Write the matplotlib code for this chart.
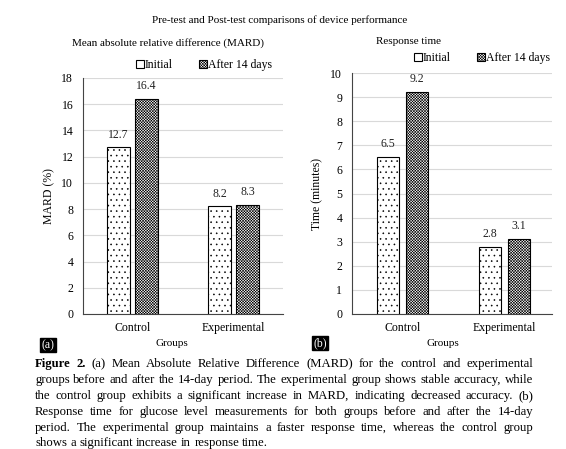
import matplotlib
matplotlib.use('Agg')
import matplotlib.pyplot as plt
from matplotlib.patches import Patch
import numpy as np

groups = ['Control', 'Experimental']
mard_initial = [12.7, 8.2]
mard_after = [16.4, 8.3]
time_initial = [6.5, 2.8]
time_after = [9.2, 3.1]
series = ['Initial', 'After 14 days']

caption = [
    "Figure 2. (a) Mean Absolute Relative Difference (MARD) for the control and experimental",
    "groups before and after the 14-day period. The experimental group shows stable accuracy, while",
    "the control group exhibits a significant increase in MARD, indicating decreased accuracy. (b)",
    "Response time for glucose level measurements for both groups before and after the 14-day",
    "period. The experimental group maintains a faster response time, whereas the control group",
    "shows a significant increase in response time.",
]

plt.rcParams['font.family'] = ['Liberation Serif', 'DejaVu Serif']
plt.rcParams['hatch.linewidth'] = 0.4
plt.rcParams['font.size'] = 8

W, H = 566, 449
fig = plt.figure(figsize=(W / 100, H / 100), dpi=100)

DOTS = '...'
CHECK = 'xxxxxxxxxxxx'


def fx(x):
    return x / W


def fy(y):
    return 1 - y / H


def draw_panel(ax, ini, aft, ymax, step, ylabel, width, off, xlim):
    x = np.arange(len(groups))
    b1 = ax.bar(x - off, ini, width, color='white', edgecolor='black',
                hatch=DOTS, linewidth=0.8, zorder=3)
    b2 = ax.bar(x + off, aft, width, color='white', edgecolor='black',
                hatch=CHECK, linewidth=0.8, zorder=3)
    for bars in (b1, b2):
        ax.bar_label(bars, fmt='%.1f', padding=5, fontsize=8.5, color='#222222')
    ax.set_ylim(0, ymax)
    ax.set_xlim(*xlim)
    ax.set_yticks(np.arange(0, ymax + 0.01, step))
    ax.set_xticks(x)
    ax.set_xticklabels(groups, fontsize=8.5)
    ax.tick_params(length=0, labelsize=8.5, pad=7)
    ax.tick_params(axis='x', pad=6)
    ax.yaxis.grid(True, color='#d9d9d9', linewidth=0.8, zorder=0)
    ax.set_axisbelow(True)
    for s in ['top', 'right']:
        ax.spines[s].set_visible(False)
    ax.spines['left'].set_color('#444444')
    ax.spines['bottom'].set_color('#444444')
    ax.set_ylabel(ylabel, fontsize=8.5)
    return b1, b2


ax1 = fig.add_axes([fx(83), fy(314), fx(200), (314 - 78) / H])
draw_panel(ax1, mard_initial, mard_after, 18, 2, 'MARD (%)', 0.235, 0.138, (-0.49, 1.49))
ax1.yaxis.set_label_coords(-(83 - 55) / 200, 0.5)

ax2 = fig.add_axes([fx(352), fy(314), fx(200), (314 - 73) / H])
draw_panel(ax2, time_initial, time_after, 10, 1, 'Time (minutes)', 0.22, 0.14, (-0.495, 1.465))
ax2.yaxis.set_label_coords(-(352 - 323) / 200, 0.5)

handles = [Patch(facecolor='white', edgecolor='black', linewidth=0.8, label=series[0]),
           Patch(facecolor='white', edgecolor='black', hatch=CHECK, linewidth=0.8, label=series[1])]
for cx, cy in [(204, 65), (482, 58)]:
    fig.legend(handles=handles, loc='center', bbox_to_anchor=(fx(cx), fy(cy)), ncol=2,
               frameon=False, fontsize=8.5, handlelength=0.7, handleheight=0.7,
               handletextpad=0.1, columnspacing=2.2, borderpad=0)

fig.text(fx(280), fy(20), 'Pre-test and Post-test comparisons of device performance',
         ha='center', va='center', fontsize=8)
fig.text(fx(168), fy(43), 'Mean absolute relative difference (MARD)', ha='center', va='center', fontsize=8)
fig.text(fx(408), fy(41), 'Response time', ha='center', va='center', fontsize=8)
fig.text(fx(172), fy(344), 'Groups', ha='center', va='center', fontsize=8)
fig.text(fx(443), fy(343), 'Groups', ha='center', va='center', fontsize=8)
for lab, cx, cy in [('(a)', 48, 345), ('(b)', 320, 343)]:
    fig.text(fx(cx), fy(cy), lab, ha='center', va='center', fontsize=8.5, color='white',
             bbox=dict(facecolor='black', edgecolor='black', pad=1.0))

# justified caption
fig.canvas.draw()
renderer = fig.canvas.get_renderer()
left, right = 35, 533
baselines = [367, 383, 399, 415, 431, 446]
CAP_FS = 9.2
tmp1 = fig.text(0, 0, 'a a', fontsize=CAP_FS)
tmp2 = fig.text(0, 0, 'aa', fontsize=CAP_FS)
space = tmp1.get_window_extent(renderer).width - tmp2.get_window_extent(renderer).width
tmp1.remove()
tmp2.remove()
for i, line in enumerate(caption):
    words = line.split(' ')
    texts = []
    for j, w in enumerate(words):
        bold = (i == 0 and j < 2)
        t = fig.text(0, fy(baselines[i]), w, ha='left', va='baseline', fontsize=CAP_FS,
                     fontweight='bold' if bold else 'normal')
        texts.append(t)
    widths = [t.get_window_extent(renderer).width for t in texts]
    if i < len(caption) - 1:
        gap = (right - left - sum(widths)) / (len(words) - 1)
    else:
        gap = space
    x = left
    for t, w in zip(texts, widths):
        t.set_x(fx(x))
        x += w + gap

fig.savefig('out.png', dpi=100)
